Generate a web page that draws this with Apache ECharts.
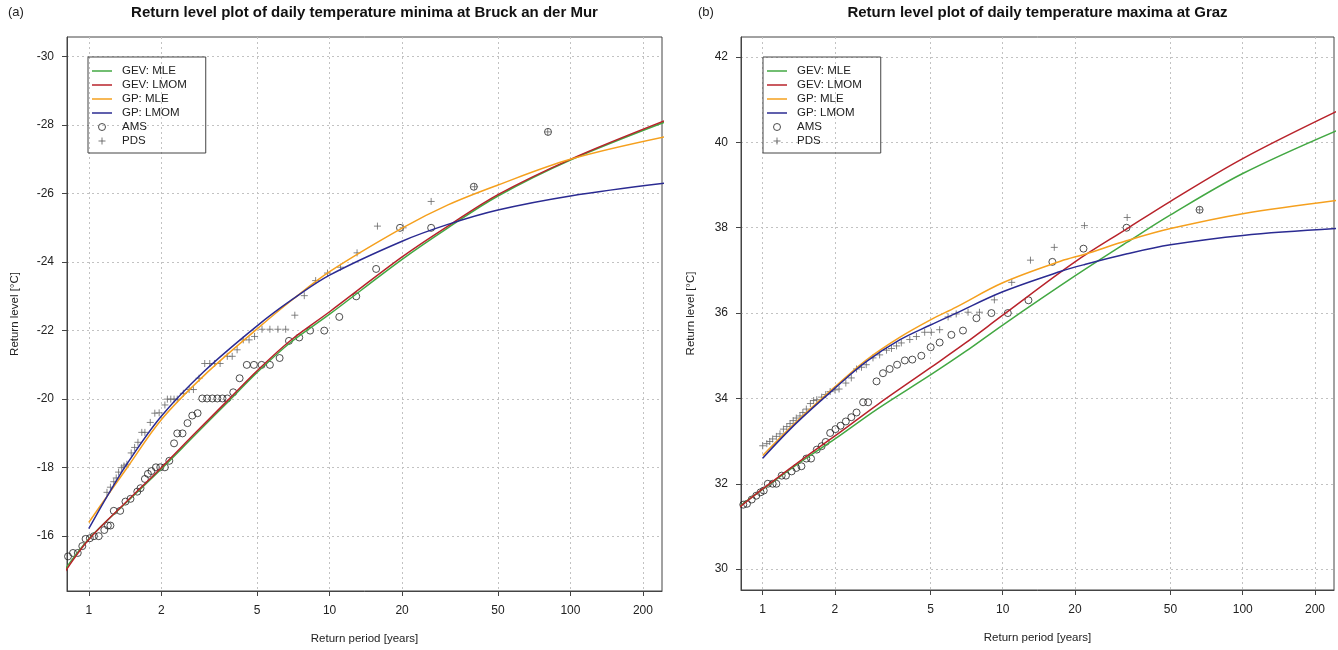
<!DOCTYPE html>
<html>
<head>
<meta charset="utf-8">
<title>Return level plots</title>
<script src="https://cdn.jsdelivr.net/npm/echarts@6.0.0/dist/echarts.min.js"></script>
<style>
  html, body { margin: 0; padding: 0; background: #fff; }
  #wrap { position: relative; width: 1338px; height: 650px; }
  .chart { position: absolute; top: 0; width: 669px; height: 650px; }
</style>
</head>
<body>
<div id="wrap">
  <div id="chartA" class="chart" style="left:0"></div>
  <div id="chartB" class="chart" style="left:669px"></div>
</div>
<script>
// tick positions
const yearTicks = [1, 2, 5, 10, 20, 50, 100, 200]
const levelTicksA = [-30, -28, -26, -24, -22, -20, -18, -16]
const levelTicksB = [30, 32, 34, 36, 38, 40, 42]

// (a) Bruck an der Mur, minima -- fitted curves
const gevTA = [0.8, 1, 1.45, 2, 2.74, 3.82, 5, 6.9, 10, 20, 31, 50, 100, 245]
const gevMleA = [-15.05, -15.92, -17.02, -17.96, -18.93, -19.95, -20.78, -21.66, -22.48, -24.08, -25.0, -25.93, -26.98, -28.08]
const gevLmomA = [-14.98, -15.9, -17.04, -18.0, -18.98, -20.0, -20.83, -21.72, -22.55, -24.15, -25.05, -25.97, -27.0, -28.12]
const gpTA = [1, 1.2, 1.45, 2, 3, 5, 7, 10, 20, 31, 50, 100, 245]
const gpMleA = [-16.4, -17.2, -18.02, -19.4, -20.68, -22.05, -22.9, -23.72, -24.99, -25.67, -26.25, -27.0, -27.65]
const gpLmomA = [-16.22, -17.2, -18.14, -19.5, -20.8, -22.14, -22.91, -23.62, -24.61, -25.1, -25.52, -25.93, -26.3]

// (a) observations
const amsTA = [0.82, 0.86, 0.90, 0.94, 0.97, 1.01, 1.05, 1.10, 1.16, 1.20, 1.23, 1.27, 1.35, 1.42, 1.49, 1.59, 1.64, 1.71, 1.76, 1.82,
  1.90, 1.98, 2.07, 2.16, 2.26, 2.33, 2.45, 2.57, 2.69, 2.83, 2.96, 3.10, 3.26, 3.42, 3.59, 3.76, 3.98, 4.23, 4.53, 4.85,
  5.22, 5.65, 6.2, 6.78, 7.48, 8.3, 9.5, 10.97, 12.9, 15.6, 19.6, 26.4, 39.7, 80.7]
const amsA = [-15.41, -15.51, -15.51, -15.71, -15.92, -15.94, -16.0, -16.0, -16.18, -16.31, -16.31, -16.74, -16.74, -17.01, -17.09, -17.3, -17.4, -17.67, -17.82, -17.9,
  -18.01, -18.01, -18.01, -18.2, -18.71, -19.0, -19.0, -19.3, -19.52, -19.59, -20.02, -20.02, -20.02, -20.02, -20.02, -20.02, -20.2, -20.61, -21.0, -21.0,
  -21.0, -21.0, -21.2, -21.7, -21.8, -22.0, -22.0, -22.4, -23.0, -23.8, -25.0, -25.0, -26.2, -27.8]
const pdsTA = [1.19, 1.23, 1.27, 1.30, 1.33, 1.37, 1.40, 1.44, 1.50, 1.55, 1.60, 1.66, 1.71, 1.80, 1.88, 1.96, 2.07, 2.12, 2.19, 2.26,
  2.33, 2.47, 2.61, 2.72, 2.87, 3.03, 3.18, 3.33, 3.51, 3.76, 3.94, 4.13, 4.38, 4.63, 4.88, 5.24, 5.65, 6.1, 6.57, 7.17,
  7.85, 8.75, 9.8, 11.1, 13.0, 15.8, 20.2, 26.4, 40.0, 80.5]
const pdsA = [-17.28, -17.43, -17.59, -17.7, -17.87, -18.0, -18.05, -18.1, -18.43, -18.59, -18.74, -19.03, -19.03, -19.32, -19.59, -19.6, -19.83, -20.0, -20.0, -20.0,
  -20.0, -20.17, -20.28, -20.28, -20.61, -21.04, -21.04, -21.04, -21.04, -21.25, -21.25, -21.44, -21.73, -21.73, -21.83, -22.04, -22.04, -22.04, -22.04, -22.45,
  -23.02, -23.46, -23.68, -23.85, -24.27, -25.05, -25.0, -25.77, -26.2, -27.8]

// (b) Graz, maxima -- fitted curves
const gevTB = [0.8, 1, 1.5, 2, 3, 5, 7, 10, 20, 33, 50, 100, 245]
const gevMleB = [31.47, 31.87, 32.58, 33.05, 33.75, 34.55, 35.1, 35.72, 36.87, 37.66, 38.3, 39.27, 40.27]
const gevLmomB = [31.45, 31.88, 32.62, 33.12, 33.85, 34.72, 35.3, 35.95, 37.2, 37.98, 38.62, 39.62, 40.72]
const gpTB = [1, 1.38, 2, 2.7, 3.72, 5, 6.4, 10, 17.5, 22, 33, 50, 100, 245]
const gpMleB = [32.66, 33.45, 34.27, 34.9, 35.43, 35.84, 36.14, 36.71, 37.22, 37.38, 37.7, 37.98, 38.33, 38.64]
const gpLmomB = [32.6, 33.42, 34.24, 34.86, 35.37, 35.72, 36.0, 36.5, 36.98, 37.14, 37.39, 37.6, 37.82, 37.98]

// (b) observations
const amsTB = [0.83, 0.86, 0.90, 0.94, 0.98, 1.01, 1.05, 1.10, 1.14, 1.20, 1.25, 1.32, 1.38, 1.45, 1.52, 1.59, 1.68, 1.76, 1.83, 1.91,
  2.01, 2.11, 2.22, 2.34, 2.46, 2.62, 2.75, 2.98, 3.17, 3.38, 3.63, 3.91, 4.2, 4.58, 5.01, 5.46, 6.11, 6.83, 7.77, 8.97,
  10.5, 12.8, 16.1, 21.7, 32.8, 66.1]
const amsB = [31.51, 31.53, 31.63, 31.72, 31.8, 31.84, 32.0, 32.0, 32.0, 32.19, 32.19, 32.29, 32.37, 32.41, 32.59, 32.59, 32.8, 32.88, 32.98, 33.19,
  33.28, 33.36, 33.46, 33.56, 33.67, 33.91, 33.91, 34.4, 34.59, 34.69, 34.79, 34.89, 34.91, 35.0, 35.2, 35.31, 35.49, 35.59, 35.88, 36.0,
  36.0, 36.3, 37.2, 37.51, 38.0, 38.42]
const pdsTB = [1.0, 1.04, 1.07, 1.10, 1.14, 1.18, 1.22, 1.26, 1.30, 1.34, 1.38, 1.43, 1.47, 1.52, 1.58, 1.63, 1.68, 1.76, 1.83, 1.91,
  2.0, 2.08, 2.22, 2.34, 2.46, 2.58, 2.7, 2.88, 3.07, 3.28, 3.44, 3.61, 3.78, 4.1, 4.37, 4.73, 5.04, 5.46, 5.92, 6.4,
  7.17, 8.0, 9.23, 10.9, 13.05, 16.4, 21.9, 33.0, 66.1]
const pdsB = [32.89, 32.94, 32.99, 33.05, 33.11, 33.17, 33.28, 33.34, 33.41, 33.48, 33.54, 33.59, 33.67, 33.75, 33.88, 33.95, 33.97, 34.03, 34.09, 34.16,
  34.2, 34.22, 34.36, 34.48, 34.69, 34.73, 34.79, 34.95, 35.02, 35.13, 35.17, 35.23, 35.3, 35.38, 35.45, 35.55, 35.55, 35.61, 35.91, 35.98,
  36.02, 36.02, 36.31, 36.72, 37.24, 37.54, 38.05, 38.24, 38.42]

const FONT = '"Liberation Sans", Arial, Helvetica, sans-serif'
const colors = { green: '#43a843', red: '#b8232b', orange: '#f5a01e', blue: '#2b2b92' }
const LINE_ICON = 'path://M0,0L20,0L20,1.5L0,1.5Z'
const pair = (xs, ys) => xs.map((x, i) => [x, ys[i]])

function curve(name, xs, ys, color) {
  return {
    name: name,
    type: 'line',
    data: pair(xs, ys),
    symbol: 'none',
    showSymbol: false,
    smooth: 0.35,
    clip: true,
    silent: true,
    lineStyle: { color: color, width: 1.5 },
    itemStyle: { color: color }
  }
}

function buildOption(p) {
  const gridW = p.grid.width
  const axisText = { fontSize: 12, color: '#222', fontFamily: FONT }
  const nameText = { fontSize: 11.5, color: '#222', fontFamily: FONT }
  const dotted = { show: true, lineStyle: { type: [2, 3], color: '#c2c2c2', width: 1 } }
  return {
    animation: false,
    title: [
      { text: p.tag, left: p.tagLeft, top: 1, textStyle: { fontSize: 13, fontWeight: 'normal', color: '#222', fontFamily: FONT } },
      {
        text: p.title,
        left: p.grid.left + gridW / 2 - 5,
        top: 0,
        textAlign: 'center',
        textStyle: { fontSize: 15, fontWeight: 'bold', color: '#111', fontFamily: FONT }
      }
    ],
    grid: {
      left: p.grid.left, top: p.grid.top, width: gridW, height: p.grid.height,
      show: true, borderColor: '#444', borderWidth: 1, backgroundColor: 'transparent'
    },
    legend: {
      left: p.legendLeft, top: 57, orient: 'vertical',
      itemWidth: 20, itemHeight: 7, itemGap: 0,
      padding: [7, 19, 5, 4],
      borderColor: '#444', borderWidth: 1, borderRadius: 0,
      selectedMode: false,
      textStyle: { fontSize: 11.5, color: '#222', lineHeight: 14, fontFamily: FONT, padding: [0, 0, 0, 5] },
      data: [
        { name: 'GEV: MLE', icon: LINE_ICON },
        { name: 'GEV: LMOM', icon: LINE_ICON },
        { name: 'GP: MLE', icon: LINE_ICON },
        { name: 'GP: LMOM', icon: LINE_ICON },
        { name: 'AMS', icon: 'circle', itemStyle: { color: 'rgba(0,0,0,0)', borderColor: '#222', borderWidth: 1 } },
        { name: 'PDS', itemStyle: { borderColor: '#555', borderWidth: 1 } }
      ]
    },
    xAxis: {
      type: 'log', logBase: 10, min: 0.812, max: 240,
      name: 'Return period [years]', nameLocation: 'middle', nameGap: 42,
      nameTextStyle: nameText,
      axisLine: { show: true, lineStyle: { color: '#444' } },
      axisTick: { show: true, length: 5, customValues: yearTicks, lineStyle: { color: '#444' } },
      axisLabel: Object.assign({ customValues: yearTicks, margin: 14, formatter: v => String(Math.round(v)) }, axisText),
      splitLine: dotted,
      minorTick: { show: false }, minorSplitLine: { show: false }
    },
    yAxis: {
      type: 'value', inverse: p.inverse, min: p.yMin, max: p.yMax,
      name: 'Return level [°C]', nameLocation: 'middle', nameGap: p.yNameGap,
      nameTextStyle: nameText,
      axisLine: { show: true, lineStyle: { color: '#444' } },
      axisTick: { show: true, length: 5, customValues: p.yTicks, lineStyle: { color: '#444' } },
      axisLabel: Object.assign({ customValues: p.yTicks, margin: 13 }, axisText),
      splitLine: dotted
    },
    series: [
      curve('GEV: MLE', p.gevT, p.gevMle, colors.green),
      curve('GEV: LMOM', p.gevT, p.gevLmom, colors.red),
      curve('GP: MLE', p.gpT, p.gpMle, colors.orange),
      curve('GP: LMOM', p.gpT, p.gpLmom, colors.blue),
      {
        name: 'AMS', type: 'scatter', data: pair(p.amsT, p.ams),
        symbol: 'circle', symbolSize: 7, silent: true,
        itemStyle: { color: 'rgba(0,0,0,0)', borderColor: '#222', borderWidth: 1 }
      },
      {
        name: 'PDS', type: 'scatter', data: pair(p.pdsT, p.pds),
        symbol: 'path://M0,5L10,5M5,0L5,10', symbolSize: 7, silent: true,
        itemStyle: { color: 'rgba(0,0,0,0)', borderColor: '#666', borderWidth: 1 }
      }
    ]
  }
}

const chartA = echarts.init(document.getElementById('chartA'), null, { renderer: 'canvas' })
chartA.setOption(buildOption({
  tag: '(a)', tagLeft: 3,
  title: 'Return level plot of daily temperature minima at Bruck an der Mur',
  grid: { left: 67, top: 37, width: 595, height: 555 },
  legendLeft: 88, inverse: true, yMin: -30.57, yMax: -14.4, yTicks: levelTicksA, yNameGap: 46,
  gevT: gevTA, gevMle: gevMleA, gevLmom: gevLmomA,
  gpT: gpTA, gpMle: gpMleA, gpLmom: gpLmomA,
  amsT: amsTA, ams: amsA, pdsT: pdsTA, pds: pdsA
}))

const chartB = echarts.init(document.getElementById('chartB'), null, { renderer: 'canvas' })
chartB.setOption(buildOption({
  tag: '(b)', tagLeft: 24,
  title: 'Return level plot of daily temperature maxima at Graz',
  grid: { left: 72, top: 37, width: 593, height: 553 },
  legendLeft: 94, inverse: false, yMin: 29.51, yMax: 42.47, yTicks: levelTicksB, yNameGap: 44,
  gevT: gevTB, gevMle: gevMleB, gevLmom: gevLmomB,
  gpT: gpTB, gpMle: gpMleB, gpLmom: gpLmomB,
  amsT: amsTB, ams: amsB, pdsT: pdsTB, pds: pdsB
}))
</script>
</body>
</html>
